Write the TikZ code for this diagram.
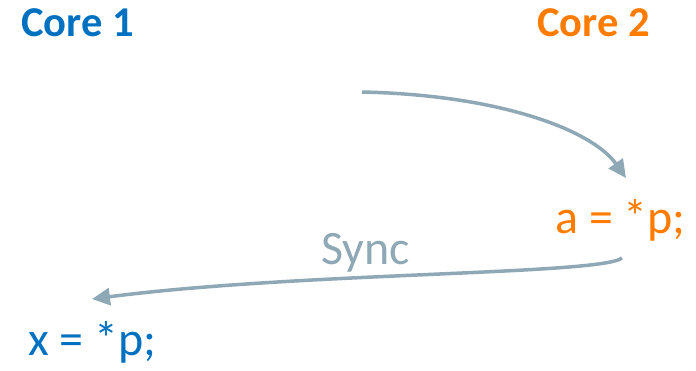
\documentclass[tikz,border=0pt]{standalone}
\usepackage{fontspec}
\setmainfont{Carlito}
\usetikzlibrary{positioning,arrows.meta,calc}
\definecolor{coreblue}{RGB}{0,112,192}
\definecolor{coreorange}{RGB}{255,124,0}
\definecolor{syncgray}{RGB}{143,168,182}
\tikzstyle{lbl}=[inner sep=0pt,anchor=base west,font=\fontsize{48}{48}\selectfont]
\tikzstyle{head}=[lbl,font=\fontsize{42.5}{42.5}\selectfont\bfseries]
\tikzstyle{flow}=[draw=syncgray,line width=3.5pt,-{Triangle[length=18pt,width=17pt]}]

\begin{document}
\begin{tikzpicture}[x=1pt,y=-1pt]
  \useasboundingbox (0,0) rectangle (696,370);
  \node(core1)[head,text=coreblue] at (21,36) {Core 1};
  \node(core2)[head,text=coreorange] at (537,36) {Core 2};
  \node(load2)[lbl,text=coreorange] at (555,233) {a = *p;};
  \node(load1)[lbl,text=coreblue] at (28,355) {x = *p;};
  \node(sync)[lbl,text=syncgray] at (321,264) {Sync};
  \coordinate(start2) at (362,92);
  \coordinate(tip2) at (626,178);
  \coordinate(start1) at (622,258);
  \coordinate(tip1) at (92,299);
  \path[flow]
    (start2) .. controls (500,95) and (592,130) .. (tip2);
  \path[flow]
    (start1) .. controls (600,275) and (300,272) .. (tip1);
\end{tikzpicture}
\end{document}
